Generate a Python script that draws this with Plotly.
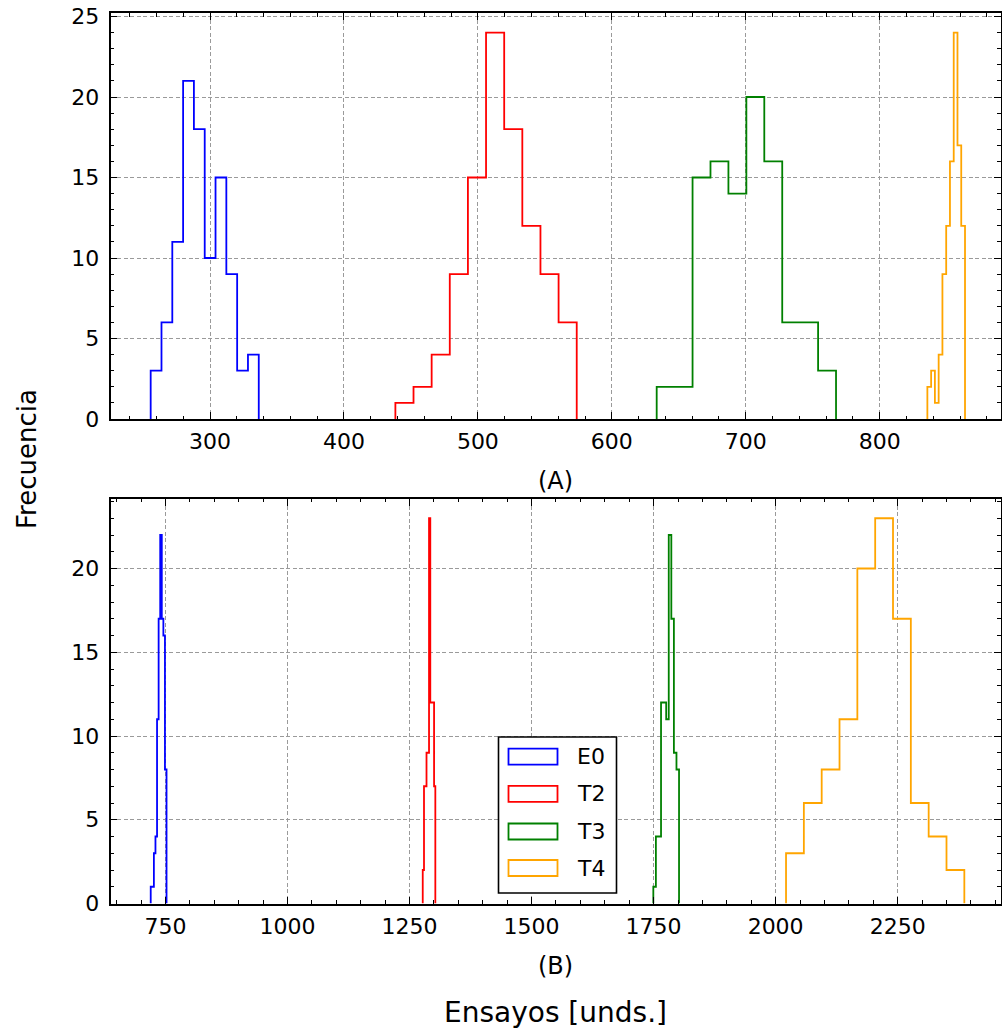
import numpy as np
import plotly.graph_objects as go

# ---------------- data ----------------
series_names = ["E0", "T2", "T3", "T4"]
series_colors = ["#0000ff", "#ff0000", "#008000", "#ffa500"]

# Panel (A): histogram ranges (bin range) and counts (10 bins each)
a_lo = [255.7, 438.4, 633.5, 835.6]
a_hi = [336.4, 573.8, 767.4, 863.7]
a_counts_E0 = [3, 6, 11, 21, 18, 10, 15, 9, 3, 4]
a_counts_T2 = [1, 2, 4, 9, 15, 24, 18, 12, 9, 6]
a_counts_T3 = [2, 2, 15, 16, 14, 20, 16, 6, 6, 3]
a_counts_T4 = [2, 3, 1, 4, 9, 12, 16, 24, 17, 12]

# Panel (B)
b_lo = [719.7, 1277.0, 1749.4, 2021.3]
b_hi = [752.1, 1302.8, 1802.1, 2386.6]
b_counts_E0 = [1, 1, 3, 4, 11, 17, 22, 17, 16, 8]
b_counts_T2 = [2, 7, 7, 9, 9, 23, 12, 12, 12, 7]
b_counts_T3 = [1, 4, 4, 12, 12, 11, 22, 17, 9, 8]
b_counts_T4 = [3, 6, 8, 11, 20, 23, 17, 6, 4, 2]

a_counts = [a_counts_E0, a_counts_T2, a_counts_T3, a_counts_T4]
b_counts = [b_counts_E0, b_counts_T2, b_counts_T3, b_counts_T4]

W, H = 1002, 1029
FONT = "DejaVu Sans"


def px(x):
    return x / W


def py(y):
    return 1 - y / H


def step_xy(lo, hi, counts):
    edges = np.linspace(lo, hi, len(counts) + 1)
    xs = np.repeat(edges, 2)
    ys = np.concatenate([[0], np.repeat(counts, 2), [0]])
    return xs, ys


fig = go.Figure()
for i in range(4):
    xs, ys = step_xy(a_lo[i], a_hi[i], a_counts[i])
    fig.add_trace(go.Scatter(x=xs, y=ys, mode="lines", xaxis="x", yaxis="y",
                             line=dict(color=series_colors[i], width=1.8),
                             showlegend=False, hoverinfo="skip"))
for i in range(4):
    xs, ys = step_xy(b_lo[i], b_hi[i], b_counts[i])
    fig.add_trace(go.Scatter(x=xs, y=ys, mode="lines", xaxis="x2", yaxis="y2",
                             line=dict(color=series_colors[i], width=1.8),
                             showlegend=False, hoverinfo="skip"))

tickfont = dict(family=FONT, size=22, color="black")


def axis_common(dtick, minor_dtick, rng, standoff):
    return dict(
        range=rng, dtick=dtick, tick0=0, automargin=False,
        ticks="inside", ticklen=7, tickwidth=1.3, tickcolor="black",
        ticklabelstandoff=standoff,
        mirror="allticks", showline=True, linewidth=1.6, linecolor="black",
        showgrid=True, gridcolor="#9a9a9a", gridwidth=0.8, griddash="4px,2.5px",
        zeroline=False, tickfont=tickfont,
        minor=dict(dtick=minor_dtick, tick0=0, ticks="inside", ticklen=3.5,
                   tickwidth=1.0, tickcolor="black", showgrid=False),
    )


xdom = [px(110.5), px(1000.5)]
fig.update_layout(
    width=W, height=H,
    margin=dict(l=0, r=0, t=0, b=0),
    paper_bgcolor="white", plot_bgcolor="white",
    font=dict(family=FONT, size=22, color="black"),
    xaxis=dict(domain=xdom, anchor="y", **axis_common(100, 20, [225.7, 890.2], 2)),
    yaxis=dict(domain=[py(419), py(13.3)], anchor="x", **axis_common(5, 1, [0, 25.2], 5)),
    xaxis2=dict(domain=xdom, anchor="y2", **axis_common(250, 50, [637.3, 2460.7], 2)),
    yaxis2=dict(domain=[py(903.5), py(499)], anchor="x2", **axis_common(5, 1, [0, 24.15], 5)),
)

# axis labels
ann = [
    dict(text="(A)", x=px(555.5), y=py(481), font=dict(family=FONT, size=24, color="black")),
    dict(text="(B)", x=px(555.5), y=py(966), font=dict(family=FONT, size=24, color="black")),
    dict(text="Ensayos [unds.]", x=px(555.5), y=py(1012), font=dict(family=FONT, size=28, color="black")),
    dict(text="Frecuencia", x=px(27), y=py(459), textangle=-90, font=dict(family=FONT, size=26, color="black")),
]
for a in ann:
    fig.add_annotation(xref="paper", yref="paper", showarrow=False,
                       xanchor="center", yanchor="middle", **a)

# custom legend (outlined patches like matplotlib step histogram legend)
fig.add_shape(type="rect", xref="paper", yref="paper",
              x0=px(498.5), x1=px(616.5), y0=py(893), y1=py(737),
              line=dict(color="black", width=1.6), fillcolor="white", layer="above")
leg_y = [756.7, 793.8, 831.5, 868.0]
for i in range(4):
    fig.add_shape(type="rect", xref="paper", yref="paper",
                  x0=px(508.5), x1=px(557.5), y0=py(leg_y[i] + 8), y1=py(leg_y[i] - 8),
                  line=dict(color=series_colors[i], width=1.8), fillcolor="rgba(0,0,0,0)",
                  layer="above")
    fig.add_annotation(xref="paper", yref="paper", showarrow=False,
                       x=px(575), y=py(leg_y[i]), xanchor="left", yanchor="middle",
                       text=series_names[i], font=dict(family=FONT, size=22, color="black"))

fig.write_html("out.html")
